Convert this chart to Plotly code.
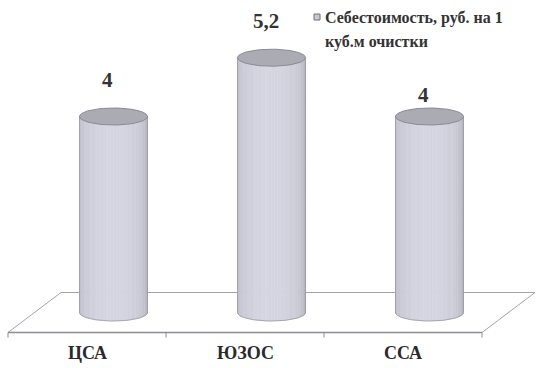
import numpy as np
import plotly.graph_objects as go

# ---- data ----
categories = ["ЦСА", "ЮЗОС", "ССА"]
values = [4, 5.2, 4]
value_labels = ["4", "5,2", "4"]
series_name_line1 = "Себестоимость, руб. на 1"
series_name_line2 = "куб.м очистки"

# ---- style / geometry (pixel-derived constants) ----
W, H = 538, 368
PX_X = 158.0          # pixels per category step
PX_Y = 49.0           # pixels per value unit
X0_PX = 113.5         # pixel of first category centre
Y0_PX = 312.5         # pixel of value 0
HW = 34.0 / PX_X      # cylinder half width (data units)
RY = 8.5 / PX_Y       # ellipse vertical semi axis (data units)
DX = 26.5 / PX_X      # depth offset x
DY = 20.0 / PX_Y      # depth offset y
label_shift = [37, 37, 22]
FONT = "Times New Roman, Liberation Serif, DejaVu Serif, serif"

xr = [-X0_PX / PX_X, (W - X0_PX) / PX_X]
yr = [-(H - Y0_PX) / PX_Y, Y0_PX / PX_Y]

fig = go.Figure()
n = len(categories)

# ---- floor ----
fl_col = "#a4a4ac"
front_l, front_r = -0.5 - DX, n - 0.5 - DX
back_l, back_r = -0.5 + DX, n - 0.5 + DX
fig.add_trace(go.Scatter(
    x=[front_l, back_l, back_r, front_r], y=[-DY, DY, DY, -DY],
    mode="lines", line=dict(color=fl_col, width=1), hoverinfo="skip", showlegend=False))
fig.add_trace(go.Scatter(
    x=[front_l, front_r], y=[-DY, -DY],
    mode="lines", line=dict(color="#8c8c94", width=1.6), hoverinfo="skip", showlegend=False))
tx, ty = [], []
for k in range(n + 1):
    xx = k - 0.5 - DX
    tx += [xx, xx, None]
    ty += [-DY, -DY - 5 / PX_Y, None]
fig.add_trace(go.Scatter(x=tx, y=ty, mode="lines", line=dict(color="#8c8c94", width=1),
                         hoverinfo="skip", showlegend=False))

# ---- cylinders (gradient strips) ----
NS = 36
theta = np.linspace(np.pi, 0, NS + 1)
left_edge = np.array([164, 164, 176])
right_edge = np.array([140, 140, 150])
hi = np.array([214, 214, 226])
for s in range(NS):
    t = (s + 0.5) / NS
    w = np.sin(np.pi * (0.08 + 0.84 * t)) ** 0.6
    edge = left_edge * (1 - t) + right_edge * t
    c = edge * (1 - w) + hi * w
    col = "rgb(%d,%d,%d)" % tuple(c.astype(int))
    px, py = [], []
    for i, v in enumerate(values):
        xa = i + HW * np.cos(theta[s])
        xb = i + HW * np.cos(theta[s + 1])
        ya = -RY * np.sin(theta[s])
        yb = -RY * np.sin(theta[s + 1])
        px += [xa, xb, xb, xa, xa, None]
        py += [ya, yb, v, v, ya, None]
    fig.add_trace(go.Scatter(x=px, y=py, mode="lines", fill="toself", fillcolor=col,
                             line=dict(width=0.6, color=col), hoverinfo="skip", showlegend=False))

# body outlines and caps
phi = np.linspace(0, 2 * np.pi, 80)
front = np.linspace(np.pi, 2 * np.pi, 40)
for i, v in enumerate(values):
    ox = list(i + HW * np.cos(front)) + [i + HW, i - HW, i - HW]
    oy = list(RY * np.sin(front)) + [v, v, 0]
    fig.add_trace(go.Scatter(x=ox, y=oy, mode="lines", line=dict(color="#9a9aa4", width=0.8),
                             hoverinfo="skip", showlegend=False))
    fig.add_trace(go.Scatter(x=i + HW * np.cos(phi), y=v + RY * np.sin(phi), mode="lines",
                             fill="toself", fillcolor="#ababb4",
                             line=dict(color="#8a8a94", width=1), hoverinfo="skip",
                             showlegend=False))

# ---- value labels ----
for i, (v, lab) in enumerate(zip(values, value_labels)):
    fig.add_annotation(x=i - 6 / PX_X, y=v, text=lab, showarrow=False,
                       yshift=label_shift[i],
                       font=dict(family=FONT, size=21, color="#333333", weight="bold"))

# ---- category labels ----
for i, cat in enumerate(categories):
    fig.add_annotation(x=i - DX, y=-DY, text=cat, showarrow=False, yshift=-20,
                       font=dict(family=FONT, size=18, color="#2a2a2a", weight="bold"))

# ---- legend ----
fig.add_shape(type="rect", xref="paper", yref="paper",
              x0=314 / W, x1=320 / W, y0=1 - 20 / H, y1=1 - 14 / H,
              line=dict(color="#707078", width=1), fillcolor="#c8c8d0")
fig.add_annotation(xref="paper", yref="paper", x=323 / W, y=1 - 18 / H, xanchor="left",
                   yanchor="middle", showarrow=False, text=series_name_line1,
                   font=dict(family=FONT, size=16, color="#333333", weight="bold"))
fig.add_annotation(xref="paper", yref="paper", x=323 / W, y=1 - 42 / H, xanchor="left",
                   yanchor="middle", showarrow=False, text=series_name_line2,
                   font=dict(family=FONT, size=16, color="#333333", weight="bold"))

fig.update_layout(
    width=W, height=H, margin=dict(l=0, r=0, t=0, b=0),
    font=dict(family=FONT),
    paper_bgcolor="white", plot_bgcolor="white", showlegend=False,
    xaxis=dict(range=xr, visible=False, fixedrange=True),
    yaxis=dict(range=yr, visible=False, fixedrange=True),
)
fig.write_html("out.html")
